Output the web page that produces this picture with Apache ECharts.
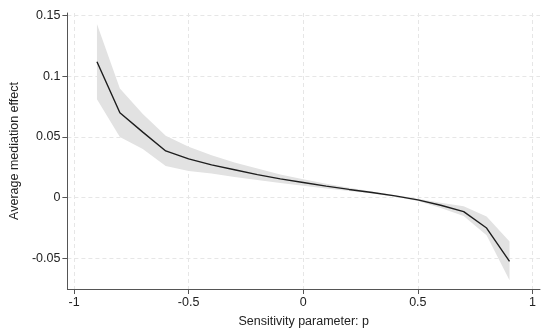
<!DOCTYPE html>
<html><head><meta charset="utf-8">
<script src="https://cdn.jsdelivr.net/npm/echarts@6/dist/echarts.min.js"></script>
<style>html,body{margin:0;padding:0;background:#fff}#c{width:550px;height:334px}</style>
</head><body><div id="c"></div>
<script>
const pValues = [-0.9,-0.8,-0.7,-0.6,-0.5,-0.4,-0.3,-0.2,-0.1,0,0.1,0.2,0.3,0.4,0.5,0.6,0.7,0.8,0.9];
const effect  = [0.112,0.070,0.054,0.0385,0.032,0.027,0.023,0.019,0.0155,0.0125,0.0095,0.0068,0.0043,0.0015,-0.0018,-0.0062,-0.0115,-0.025,-0.0525];
const lower   = [0.081,0.050,0.040,0.026,0.022,0.020,0.017,0.0145,0.012,0.0098,0.0075,0.0055,0.0035,0.0008,-0.0028,-0.0085,-0.015,-0.031,-0.068];
const upper   = [0.143,0.090,0.069,0.051,0.042,0.035,0.029,0.024,0.019,0.0152,0.0115,0.0082,0.005,0.0022,-0.0008,-0.0042,-0.007,-0.0155,-0.036];
const xTicks = [-1,-0.5,0,0.5,1];
const yTicks = [-0.05,0,0.05,0.1,0.15];
const xTitle = 'Sensitivity parameter: p';
const yTitle = 'Average mediation effect';

const font = 'Liberation Sans, Arial, sans-serif';
const bandData = pValues.map((p,i)=>[p, lower[i], upper[i]]);
const lineData = pValues.map((p,i)=>[p, effect[i]]);
const fmt = v => String(Math.round(v*1000)/1000);

const chart = echarts.init(document.getElementById('c'), null, {renderer:'canvas'});
chart.setOption({
  animation:false,
  backgroundColor:'#fff',
  grid:{left:60,right:10,top:13,bottom:45,containLabel:false},
  xAxis:{
    type:'value', min:-1.029, max:1.033,
    name:xTitle, nameLocation:'middle', nameGap:26,
    nameTextStyle:{color:'#222',fontSize:12.5,fontFamily:font},
    axisLine:{show:true,onZero:false,lineStyle:{color:'#555',width:1}},
    axisTick:{show:true,length:5,customValues:xTicks,lineStyle:{color:'#555'}},
    axisLabel:{customValues:xTicks,color:'#222',fontSize:12.5,fontFamily:font,margin:7,formatter:fmt},
    splitLine:{show:true,lineStyle:{color:'#e6e6e6',type:[4,3],width:1}}
  },
  yAxis:{
    type:'value', min:-0.0752, max:0.1521,
    name:yTitle, nameLocation:'middle', nameGap:37, nameRotate:90,
    nameTextStyle:{color:'#222',fontSize:12.5,fontFamily:font},
    axisLine:{show:true,onZero:false,lineStyle:{color:'#555',width:1}},
    axisTick:{show:true,length:5,customValues:yTicks,lineStyle:{color:'#555'}},
    axisLabel:{customValues:yTicks,color:'#222',fontSize:12.5,fontFamily:font,margin:7,formatter:fmt},
    splitLine:{show:true,lineStyle:{color:'#e6e6e6',type:[4,3],width:1}}
  },
  series:[
    {type:'custom',silent:true,z:2,
     data:[0],
     renderItem:function(params, api){
       const top = bandData.map(d=>api.coord([d[0], d[2]]));
       const bot = bandData.slice().reverse().map(d=>api.coord([d[0], d[1]]));
       return {type:'polygon',shape:{points:top.concat(bot)},style:{fill:'#e2e2e2',stroke:'none'}};
     }},
    {type:'line',data:lineData,symbol:'none',lineStyle:{color:'#1e1e1e',width:1.4},z:5}
  ]
});
</script></body></html>
